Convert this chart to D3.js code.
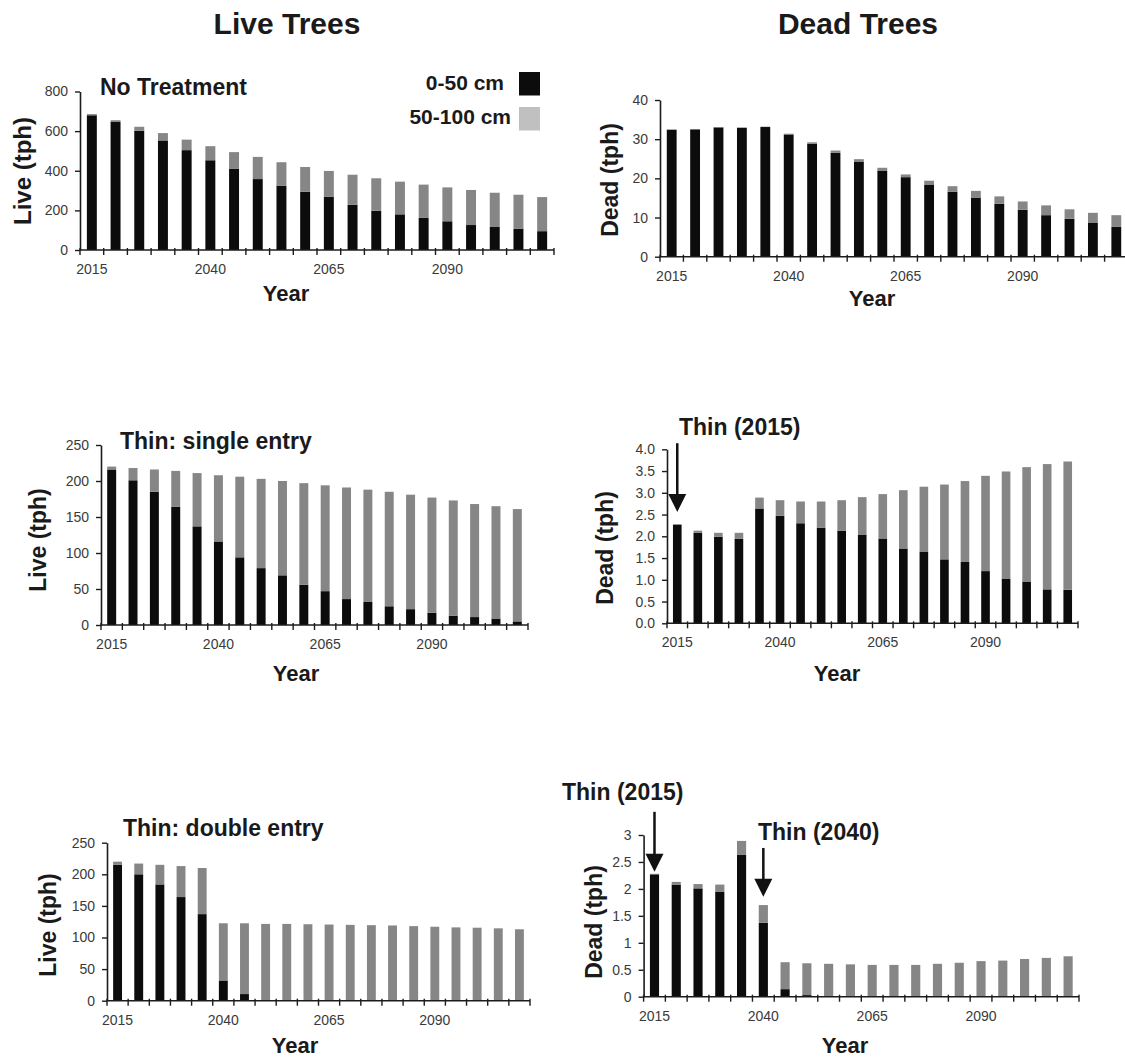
<!DOCTYPE html>
<html>
<head>
<meta charset="utf-8">
<script src="https://cdn.jsdelivr.net/npm/d3@7"></script>
<style>
  body { margin: 0; background: #fff; }
  svg text { font-family: "Liberation Sans", Arial, sans-serif; }
</style>
</head>
<body>
<svg id="chart" width="1125" height="1057"></svg>
<script>
// ---- data ---------------------------------------------------------------
const years = ["2015","2020","2025","2030","2035","2040","2045","2050","2055","2060",
               "2065","2070","2075","2080","2085","2090","2095","2100","2105","2110"];
const yearLabels = ["2015","2040","2065","2090"];
const sizeClasses = ["0-50 cm", "50-100 cm"];

// Live trees per hectare, no treatment
const liveNoneSmall = [680,646,602,553,504,453,411,358,325,294,268,228,198,180,162,145,126,116,108,95];
const liveNoneLarge = [6,9,20,37,53,71,83,112,118,125,131,152,164,165,168,171,177,173,171,172];
// Dead trees per hectare, no treatment
const deadNoneSmall = [32.4,32.5,33.0,32.9,33.1,31.2,28.8,26.5,24.3,22.0,20.3,18.3,16.6,15.1,13.5,12.0,10.6,9.7,8.6,7.6];
const deadNoneLarge = [0.1,0.1,0.1,0.1,0.1,0.2,0.4,0.6,0.6,0.7,0.7,1.1,1.4,1.7,1.9,2.1,2.5,2.4,2.6,3.0];
// Thin: single entry
const liveSingleSmall = [216,201,185,164,137,116,94,79,69,56,47,36,32,26,22,17,13,11,9,5];
const liveSingleLarge = [4,17,31,50,74,92,112,124,131,141,147,155,156,159,159,160,160,157,156,156];
const deadSingleSmall = [2.26,2.08,1.99,1.94,2.64,2.47,2.30,2.20,2.13,2.03,1.95,1.72,1.65,1.47,1.41,1.20,1.03,0.96,0.78,0.77];
const deadSingleLarge = [0.02,0.05,0.09,0.14,0.25,0.36,0.50,0.60,0.70,0.87,1.02,1.34,1.49,1.72,1.86,2.19,2.46,2.63,2.88,2.95];
// Thin: double entry
const liveDoubleSmall = [215,200,184,164,137,32,10.5,0,0,0,0,0,0,0,0,0,0,0,0,0];
const liveDoubleLarge = [5,17,31,49,73,90.5,112,121.5,121.5,121,120.5,120,119.5,119,118,117,116,115.5,114.5,113];
const deadDoubleSmall = [2.27,2.08,2.01,1.95,2.63,1.37,0.14,0.03,0,0,0,0,0,0,0,0,0,0,0,0];
const deadDoubleLarge = [0.01,0.05,0.08,0.13,0.26,0.33,0.50,0.59,0.61,0.60,0.59,0.59,0.59,0.61,0.63,0.66,0.67,0.70,0.72,0.75];

// ---- style --------------------------------------------------------------
const colors = { small: "#0c0c0c", large: "#868686" };
const legendColors = ["#0c0c0c", "#c0c0c0"];
const axisColor = "#1c1c1c";
const tickFill = "#3a3a3a";

const svg = d3.select("#chart");
svg.append("rect").attr("width", 1125).attr("height", 1057).attr("fill", "#fff");

// column headings
svg.append("text").attr("x", 287).attr("y", 34).attr("text-anchor", "middle")
  .attr("font-size", 30).attr("font-weight", "bold").attr("fill", "#1a1a1a").text("Live Trees");
svg.append("text").attr("x", 858).attr("y", 34).attr("text-anchor", "middle")
  .attr("font-size", 30).attr("font-weight", "bold").attr("fill", "#1a1a1a").text("Dead Trees");

// ---- panels -------------------------------------------------------------
const panels = [
  { small: liveNoneSmall, large: liveNoneLarge, max: 800, ticks: [0,200,400,600,800], fmt: d3.format("d"),
    x0: 80, x1: 554, yb: 250, yt: 91.5, yTitle: "Live (tph)", yTitleX: 22, yTitleY: 171, yTitleSize: 24,
    xTitleX: 286, xTitleY: 301, title: "No Treatment", titleX: 100, titleY: 95 },
  { small: deadNoneSmall, large: deadNoneLarge, max: 40, ticks: [0,10,20,30,40], fmt: d3.format("d"),
    x0: 660, x1: 1128, yb: 256.7, yt: 100, yTitle: "Dead (tph)", yTitleX: 610, yTitleY: 180, yTitleSize: 23,
    xTitleX: 872, xTitleY: 306 },
  { small: liveSingleSmall, large: liveSingleLarge, max: 250, ticks: [0,50,100,150,200,250], fmt: d3.format("d"),
    x0: 101, x1: 528, yb: 625, yt: 445, yTitle: "Live (tph)", yTitleX: 38, yTitleY: 540, yTitleSize: 23,
    xTitleX: 296, xTitleY: 681, title: "Thin: single entry", titleX: 120, titleY: 449 },
  { small: deadSingleSmall, large: deadSingleLarge, max: 4, ticks: [0,0.5,1,1.5,2,2.5,3,3.5,4], fmt: d3.format(".1f"),
    x0: 667, x1: 1078, yb: 623.3, yt: 449.3, yTitle: "Dead (tph)", yTitleX: 605, yTitleY: 548, yTitleSize: 23,
    xTitleX: 837, xTitleY: 681,
    arrows: [ { year: "2015", from: 4.14, to: 2.56, label: "Thin (2015)", lx: 679, ly: 435 } ] },
  { small: liveDoubleSmall, large: liveDoubleLarge, max: 250, ticks: [0,50,100,150,200,250], fmt: d3.format("d"),
    x0: 107, x1: 530, yb: 1000.7, yt: 842.7, yTitle: "Live (tph)", yTitleX: 48, yTitleY: 925, yTitleSize: 23,
    xTitleX: 295, xTitleY: 1053, title: "Thin: double entry", titleX: 123, titleY: 836 },
  { small: deadDoubleSmall, large: deadDoubleLarge, max: 3, ticks: [0,0.5,1,1.5,2,2.5,3], fmt: d3.format(""),
    x0: 643.6, x1: 1079, yb: 996.7, yt: 835, yTitle: "Dead (tph)", yTitleX: 594, yTitleY: 922, yTitleSize: 23,
    xTitleX: 845, xTitleY: 1053,
    arrows: [ { year: "2015", from: 3.43, to: 2.32, label: "Thin (2015)", lx: 562, ly: 800 },
              { year: "2040", from: 2.76, to: 1.855, label: "Thin (2040)", lx: 758, ly: 840 } ] }
];

panels.forEach(p => {
  const g = svg.append("g");
  const x = d3.scaleBand().domain(years).range([p.x0, p.x1]).paddingInner(0.58).paddingOuter(0.29);
  const y = d3.scaleLinear().domain([0, p.max]).range([p.yb, p.yt]);

  const rows = years.map((yr, i) => ({ year: yr, small: p.small[i], large: p.large[i] }));
  const series = d3.stack().keys(["small", "large"])(rows);

  g.selectAll("g.layer").data(series).join("g")
    .attr("class", "layer")
    .attr("fill", d => colors[d.key])
    .selectAll("rect").data(d => d).join("rect")
      .attr("x", d => x(d.data.year))
      .attr("width", x.bandwidth())
      .attr("y", d => y(d[1]))
      .attr("height", d => Math.max(0, y(d[0]) - y(d[1])));

  // y axis
  const yAxis = d3.axisLeft(y).tickValues(p.ticks).tickFormat(p.fmt).tickSize(5).tickSizeOuter(0).tickPadding(7);
  const ya = g.append("g").attr("transform", `translate(${p.x0},0)`).call(yAxis);
  ya.select(".domain").attr("stroke", axisColor).attr("stroke-width", 1.6);
  ya.selectAll(".tick line").attr("stroke", axisColor).attr("stroke-width", 1.4);
  ya.selectAll(".tick text").attr("font-size", 14).attr("fill", tickFill)
    .attr("font-family", "'Liberation Sans', Arial, sans-serif");

  // x axis: labels every fifth year, tick marks on category boundaries
  const xAxis = d3.axisBottom(x).tickValues(yearLabels).tickSize(0).tickPadding(14);
  const xa = g.append("g").attr("transform", `translate(0,${p.yb})`).call(xAxis);
  xa.select(".domain").remove();
  xa.selectAll(".tick text").attr("font-size", 14).attr("fill", tickFill)
    .attr("font-family", "'Liberation Sans', Arial, sans-serif");
  const edge = (x.step() - x.bandwidth()) / 2;
  const bounds = years.map(yr => x(yr) - edge).concat([x(years[years.length - 1]) + x.bandwidth() + edge]);
  g.append("line").attr("x1", p.x0).attr("x2", bounds[bounds.length - 1])
    .attr("y1", p.yb).attr("y2", p.yb).attr("stroke", axisColor).attr("stroke-width", 1.6);
  g.selectAll("line.xt").data(bounds).join("line").attr("class", "xt")
    .attr("x1", d => d).attr("x2", d => d).attr("y1", p.yb - 2).attr("y2", p.yb + 5)
    .attr("stroke", axisColor).attr("stroke-width", 1.4);

  // axis titles
  g.append("text").attr("x", p.xTitleX).attr("y", p.xTitleY).attr("text-anchor", "middle")
    .attr("font-size", 22).attr("font-weight", "bold").attr("fill", "#1a1a1a").text("Year");
  g.append("text").attr("transform", `translate(${p.yTitleX + p.yTitleSize * 0.36},${p.yTitleY}) rotate(-90)`)
    .attr("text-anchor", "middle").attr("font-size", p.yTitleSize).attr("font-weight", "bold")
    .attr("fill", "#1a1a1a").text(p.yTitle);

  if (p.title) {
    g.append("text").attr("x", p.titleX).attr("y", p.titleY).attr("font-size", 23)
      .attr("font-weight", "bold").attr("fill", "#1a1a1a").text(p.title);
  }

  // thinning markers
  (p.arrows || []).forEach(a => {
    const cx = x(a.year) + x.bandwidth() / 2;
    const yFrom = y(a.from), yTo = y(a.to);
    g.append("line").attr("x1", cx).attr("x2", cx).attr("y1", yFrom).attr("y2", yTo - 16)
      .attr("stroke", "#111").attr("stroke-width", 2.5);
    g.append("path")
      .attr("d", `M${cx - 9},${yTo - 18} L${cx + 9},${yTo - 18} L${cx},${yTo} Z`)
      .attr("fill", "#111");
    g.append("text").attr("x", a.lx).attr("y", a.ly).attr("font-size", 23)
      .attr("font-weight", "bold").attr("fill", "#1a1a1a").text(a.label);
  });
});

// legend (top-left panel)
const legend = svg.append("g");
const legendRows = [ { text: sizeClasses[0], color: legendColors[0], tx: 504, ty: 90, sy: 72 },
                     { text: sizeClasses[1], color: legendColors[1], tx: 511, ty: 124, sy: 107 } ];
legendRows.forEach(r => {
  legend.append("text").attr("x", r.tx).attr("y", r.ty).attr("text-anchor", "end")
    .attr("font-size", 21).attr("font-weight", "bold").attr("fill", "#1a1a1a").text(r.text);
  legend.append("rect").attr("x", 519).attr("y", r.sy).attr("width", 21).attr("height", 23.5)
    .attr("fill", r.color);
});
</script>
</body>
</html>
